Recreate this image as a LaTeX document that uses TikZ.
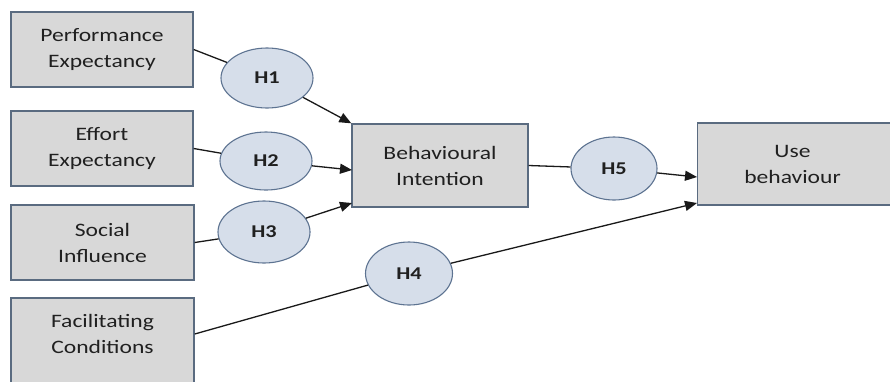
\documentclass[tikz,border=0pt]{standalone}
\usepackage{fontspec}
\setmainfont{Carlito}[FakeStretch=1.24]
\usetikzlibrary{arrows.meta,shapes.geometric,calc}
\definecolor{boxfill}{HTML}{D8D8D8}
\definecolor{boxline}{HTML}{5A6B80}
\definecolor{ellfill}{HTML}{D6DEEA}
\definecolor{ellline}{HTML}{5D7391}
\definecolor{txt}{HTML}{202020}
\tikzset{
  boxnode/.style={draw=boxline, fill=boxfill, line width=1.4pt, rectangle, inner sep=0pt},
  boxtext/.style={text=txt, align=center, font=\fontsize{19}{26}\selectfont, inner sep=0pt},
  hyp/.style={draw=ellline, fill=ellfill, line width=1.1pt, ellipse, minimum width=90pt, minimum height=62pt, inner sep=0pt, font=\fontsize{18}{20}\selectfont\bfseries, text=txt},
  conn/.style={line width=1.3pt, draw=black!90},
  arr/.style={conn, -{Triangle[length=12pt,width=10pt]}}
}
\begin{document}
\begin{tikzpicture}[x=1pt,y=-1pt]
\useasboundingbox (0,0) rectangle (890,381);
\fill[white] (0,0) rectangle (890,381);
\begin{scope}
\clip (0,0) rectangle (890,381);
% boxes
\node[boxnode, minimum width=182pt, minimum height=75pt] (pe) at (102,49.5) {};
\node[boxtext] at (pe) {Performance\\Expectancy};
\node[boxnode, minimum width=182pt, minimum height=75pt] (ee) at (102,148.5) {};
\node[boxtext] at (ee) {Effort\\Expectancy};
\node[boxnode, minimum width=183pt, minimum height=75pt] (si) at (102.5,242.5) {};
\node[boxtext] at (si) {Social\\Influence};
\node[boxnode, minimum width=183pt, minimum height=92pt] (fc) at (102.5,344) {};
\node[boxtext] (fct) at (102.5,334) {Facilitating\\Conditions};
\node[boxnode, minimum width=176pt, minimum height=83pt] (bi) at (440,165.5) {};
\node[boxtext] at (bi) {Behavioural\\Intention};
\node[boxnode, minimum width=200pt, minimum height=82pt, anchor=west] (ub) at (697,164) {};
\node[boxtext] at (792.5,164) {Use\\behaviour};
% hypotheses
\node[hyp, minimum width=92pt, minimum height=60pt] (h1) at (267,78) {H1};
\node[hyp, minimum width=92pt, minimum height=58pt] (h2) at (266,161) {H2};
\node[hyp, minimum width=92pt, minimum height=62pt] (h3) at (264,232) {H3};
\node[hyp, minimum width=87pt, minimum height=63pt] (h4) at (409,273.5) {H4};
\node[hyp, minimum width=86pt, minimum height=63pt] (h5) at (614,168.5) {H5};
% target points
\coordinate (bi2) at (352,170);
\coordinate (bi3) at (352,203);
\coordinate (ub4) at (697,203);
\coordinate (ub5) at (697,177);
% connectors
\draw[conn] (pe.east) -- (h1);
\draw[arr] (h1) -- (bi.north west);
\draw[conn] (ee.east) -- (h2);
\draw[arr] (h2) -- (bi2);
\draw[conn] (si.east) -- (h3);
\draw[arr] (h3) -- (bi3);
\draw[conn] (fc.east |- fct) -- (h4);
\draw[arr] (h4) -- (ub4);
\draw[conn] (bi.east) -- (h5);
\draw[arr] (h5) -- (ub5);
\end{scope}
\end{tikzpicture}
\end{document}
